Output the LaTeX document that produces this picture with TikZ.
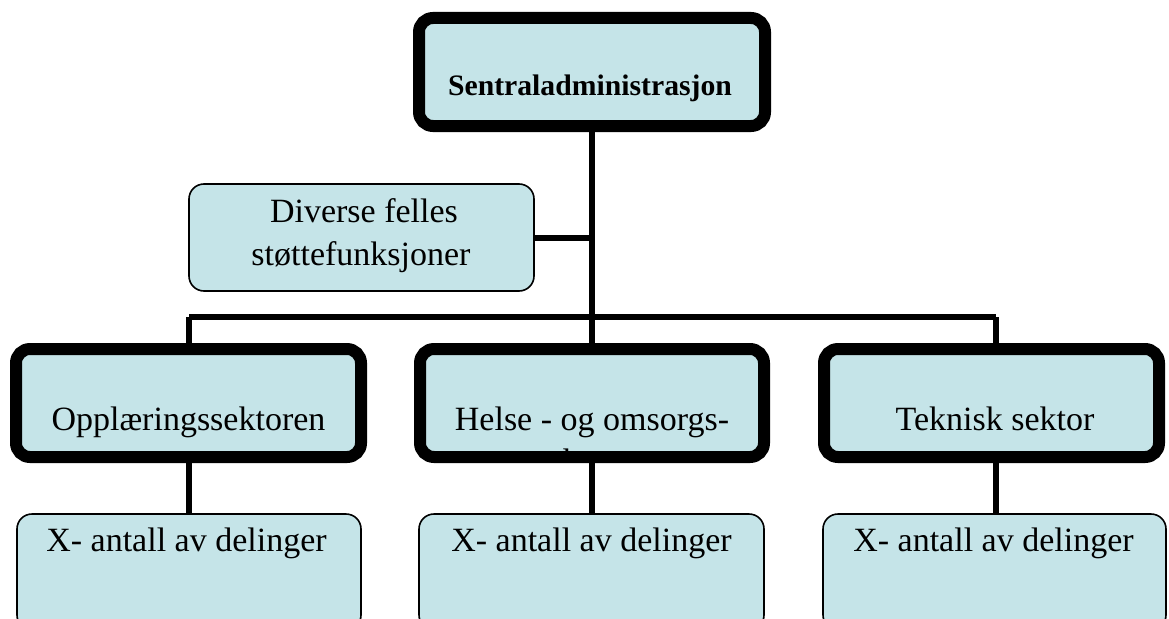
\documentclass[tikz,border=0pt]{standalone}
\usepackage{fontspec}
\setmainfont{Liberation Serif}
\definecolor{boxfill}{RGB}{197,228,232}
\tikzset{
  unitbox/.style={fill=boxfill, draw=black, inner sep=0pt},
  sectorbox/.style={unitbox, line width=12pt, rounded corners=14pt},
  subbox/.style={unitbox, line width=1.6pt, rounded corners=15pt},
  conn/.style={draw=black, line width=6pt},
  txt/.style={inner sep=0pt, anchor=base, font=\fontsize{34}{39}\selectfont},
  boldtxt/.style={inner sep=0pt, anchor=base, font=\fontsize{29.7}{34}\selectfont\bfseries}
}
\begin{document}
\begin{tikzpicture}[x=1pt, y=-1pt]
\useasboundingbox (0,0) rectangle (1169,618);
\clip (0,0) rectangle (1169,618);

% connector junctions on the horizontal bus
\coordinate (busL) at (189,317);
\coordinate (busM) at (592,317);
\coordinate (busR) at (996,317);

% boxes are placed first as empty shapes so connectors can refer to them
\path
  node[minimum width=346pt, minimum height=108pt] (top) at (592,72) {}
  node[minimum width=345pt, minimum height=107pt] (div) at (361.5,237.5) {}
  node[minimum width=345pt, minimum height=108pt] (opp) at (188.5,403) {}
  node[minimum width=344pt, minimum height=108pt] (hel) at (592,403) {}
  node[minimum width=335pt, minimum height=108pt] (tek) at (991.5,403) {}
  node[minimum width=344pt, minimum height=116pt] (subL) at (189,572) {}
  node[minimum width=345pt, minimum height=116pt] (subM) at (591.5,572) {}
  node[minimum width=343pt, minimum height=116pt] (subR) at (994.5,572) {};

% connectors
\draw[conn] (top.south) -- (busM);
\draw[conn] (div.east) -- (div.east -| top.south);
\draw[conn] (busL) -- (busR);
\draw[conn] (busL) -- (opp.north -| busL);
\draw[conn] (busM) -- (hel.north -| busM);
\draw[conn] (busR) -- (tek.north -| busR);
\draw[conn] (opp.south -| busL) -- (subL.north -| busL);
\draw[conn] (hel.south -| busM) -- (subM.north -| busM);
\draw[conn] (tek.south -| busR) -- (subR.north -| busR);

% box outlines and fills
\node[sectorbox, minimum width=346pt, minimum height=108pt] at (top) {};
\node[subbox, minimum width=345pt, minimum height=107pt] at (div) {};
\node[sectorbox, minimum width=345pt, minimum height=108pt] at (opp) {};
\node[sectorbox, minimum width=344pt, minimum height=108pt,
  path picture={
    \node[txt] (helA) at ([yshift=-27pt]path picture bounding box.center) {Helse - og omsorgs-};
    \node[txt] (helB) at ([yshift=-69pt]path picture bounding box.center) {sektoren};
  }] at (hel) {};
\node[sectorbox, minimum width=335pt, minimum height=108pt] at (tek) {};
\node[subbox, minimum width=344pt, minimum height=116pt] at (subL) {};
\node[subbox, minimum width=345pt, minimum height=116pt] at (subM) {};
\node[subbox, minimum width=343pt, minimum height=116pt] at (subR) {};

% labels
\node[boldtxt] (topT) at (590,95) {Sentraladministrasjon};
\node[txt] (divA) at (364,222) {Diverse felles};
\node[txt] (divB) at (361,265) {støttefunksjoner};
\node[txt] (oppT) at (188.5,430) {Opplæringssektoren};
\node[txt] (tekT) at (995,430) {Teknisk sektor};
\node[txt] (subLT) at (186.5,551) {X- antall av delinger};
\node[txt] (subMT) at (591.5,551) {X- antall av delinger};
\node[txt] (subRT) at (993.5,551) {X- antall av delinger};
\end{tikzpicture}
\end{document}
